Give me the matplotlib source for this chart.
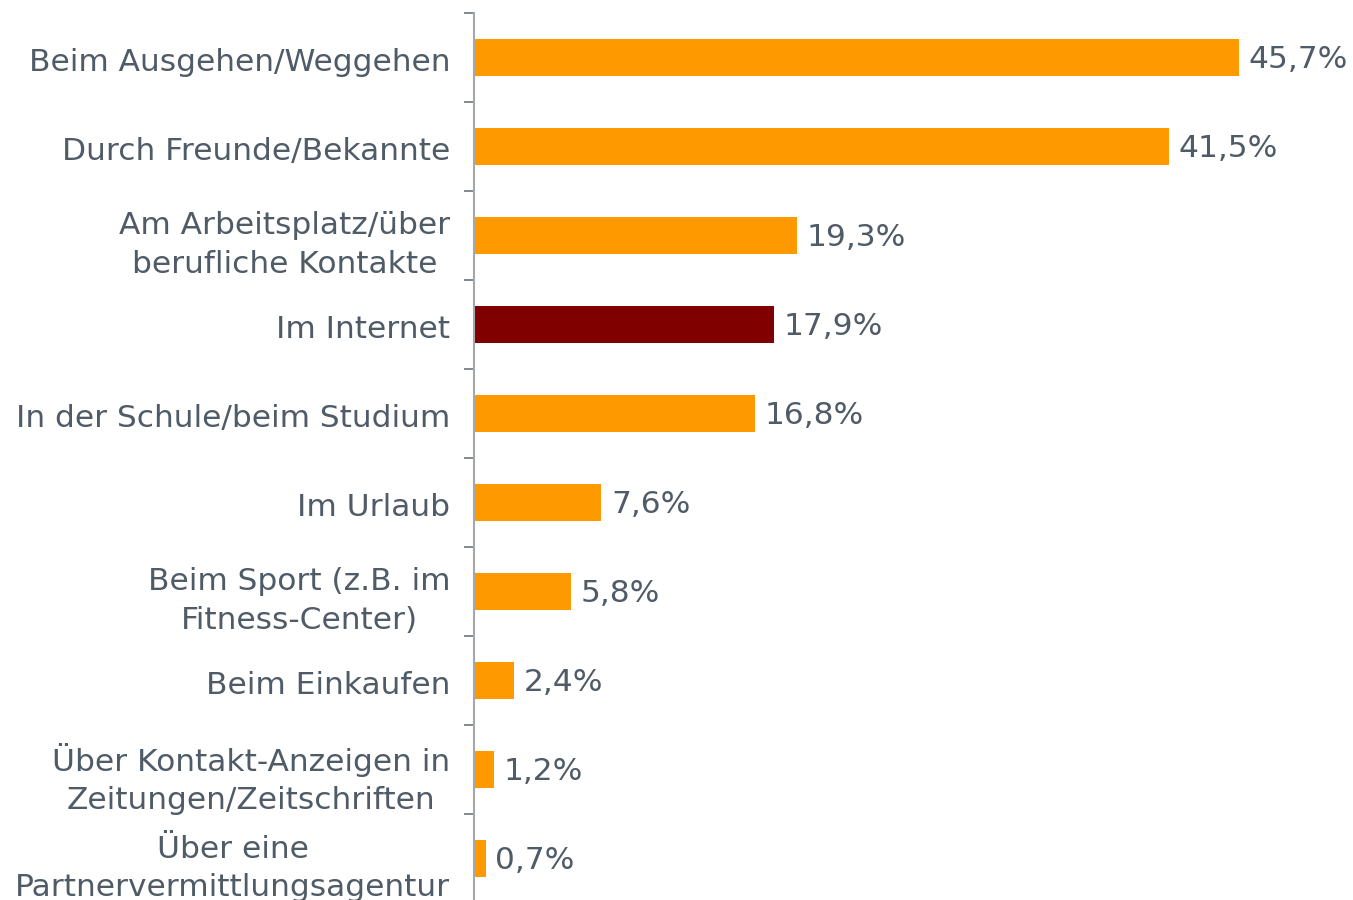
import matplotlib
matplotlib.use("Agg")
import matplotlib.pyplot as plt
import matplotlib.transforms as mtransforms
import numpy as np

categories = [
    "Beim Ausgehen/Weggehen",
    "Durch Freunde/Bekannte",
    "Am Arbeitsplatz/über\nberufliche Kontakte",
    "Im Internet",
    "In der Schule/beim Studium",
    "Im Urlaub",
    "Beim Sport (z.B. im\nFitness-Center)",
    "Beim Einkaufen",
    "Über Kontakt-Anzeigen in\nZeitungen/Zeitschriften",
    "Über eine\nPartnervermittlungsagentur",
]
values = [45.7, 41.5, 19.3, 17.9, 16.8, 7.6, 5.8, 2.4, 1.2, 0.7]
highlight = "Im Internet"

ORANGE = "#FF9900"
DARKRED = "#800000"
TEXT = "#4F5B66"
FS = 22.5

plt.rcParams['font.family'] = ['DejaVu Sans']

fig = plt.figure(figsize=(13.53, 9), dpi=100)
W, H = 1353, 900
ax = fig.add_axes([474 / W, (900 - 903) / H, (W - 474) / W, 890 / H])

n = len(categories)
y = np.arange(n)
colors = [DARKRED if c == highlight else ORANGE for c in categories]
ax.barh(y, values, height=0.42, color=colors)
ax.set_ylim(n - 0.5, -0.5)
ax.set_xlim(0, 52.5)

for yi, v in zip(y, values):
    ax.annotate(f"{v:.1f}%".replace(".", ","), xy=(v, yi), xytext=(7, -1.5),
                textcoords="offset points", va="center", ha="left",
                fontsize=FS, color=TEXT)

ax.set_yticks(y)
ax.set_yticklabels(categories, fontsize=FS, color=TEXT, multialignment="center",
                   linespacing=1.4)
ax.tick_params(axis="y", which="major", length=0, pad=17)
shift = mtransforms.ScaledTranslation(0, -2 / 100, fig.dpi_scale_trans)
for lab in ax.get_yticklabels():
    lab.set_transform(lab.get_transform() + shift)
ax.set_yticks(np.arange(-0.5, n, 1.0), minor=True)
ax.tick_params(axis="y", which="minor", length=7, width=1.2, color="#6A7580")
ax.set_xticks([])

for s in ["top", "right", "bottom"]:
    ax.spines[s].set_visible(False)
ax.spines["left"].set_color("#A3A8AD")
ax.spines["left"].set_linewidth(1.5)

fig.savefig("out.png", dpi=100)
